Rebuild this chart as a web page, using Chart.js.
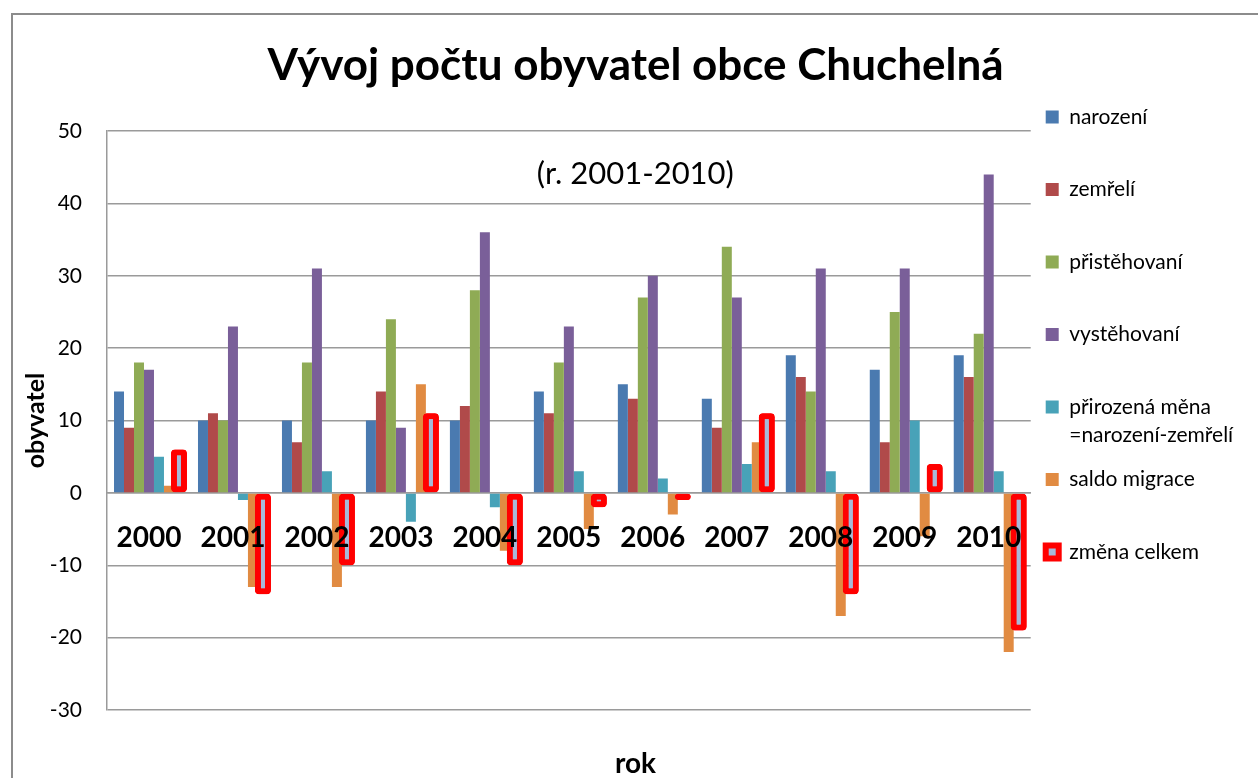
<!DOCTYPE html>
<html lang="cs">
<head>
<meta charset="utf-8">
<title>Vývoj počtu obyvatel obce Chuchelná</title>
<script src="https://cdn.jsdelivr.net/npm/chart.js"></script>
<style>
  html, body { margin: 0; padding: 0; background: #fff; overflow: hidden; }
  #frame { position: absolute; left: 11px; top: 13px; width: 1300px; height: 800px; border: 2px solid #8c8c8c; }
  #chart { position: absolute; left: 0; top: 0; }
</style>
</head>
<body>
<div id="frame"></div>
<canvas id="chart" width="1258" height="778"></canvas>
<script>
'use strict';
// Data: one value per year for each series
const years = ['2000', '2001', '2002', '2003', '2004', '2005', '2006', '2007', '2008', '2009', '2010'];
const narozeni = [14, 10, 10, 10, 10, 14, 15, 13, 19, 17, 19];
const zemreli = [9, 11, 7, 14, 12, 11, 13, 9, 16, 7, 16];
const pristehovani = [18, 10, 18, 24, 28, 18, 27, 34, 14, 25, 22];
const vystehovani = [17, 23, 31, 9, 36, 23, 30, 27, 31, 31, 44];
const prirozenaMena = [5, -1, 3, -4, -2, 3, 2, 4, 3, 10, 3];
const saldoMigrace = [1, -13, -13, 15, -8, -5, -3, 7, -17, -6, -22];
const zmenaCelkem = [6, -14, -10, 11, -10, -2, -1, 11, -14, 4, -19];
// y axis range and tick step
const yMin = -30;
const yMax = 50;
const yStep = 10;

const family = 'Lato, "Open Sans", sans-serif';
const legendFont = {family: family, size: 21, lineHeight: 57.5 / 21};
const legendPad = 15;

// Legend sits higher than the plot area, as in the original
const legendShift = {
  id: 'legendShift',
  afterLayout(chart) {
    chart.legend.top = 91.5;
  }
};
// Second line of a two-line legend label, hanging under its first line
const legendSecondLine = {
  id: 'legendSecondLine',
  afterDraw(chart) {
    const lg = chart.legend;
    const ctx = chart.ctx;
    const row = legendFont.size * legendFont.lineHeight + legendPad;
    chart.data.datasets.forEach((ds, i) => {
      const lines = ds.label.split('\n');
      if (lines.length < 2) return;
      const x = lg.left + legendPad + 13 + legendFont.size / 2;
      const y = lg.top + legendPad + i * row + legendFont.size / 2 + 28;
      ctx.save();
      ctx.font = `${legendFont.size}px ${family}`;
      ctx.fillStyle = '#000';
      ctx.textBaseline = 'middle';
      ctx.fillText(lines[1], x, y);
      ctx.restore();
    });
  }
};
// Period note inside the plot
const periodNote = {
  id: 'periodNote',
  afterDraw(chart) {
    const {ctx, chartArea, scales} = chart;
    ctx.save();
    ctx.font = `31px ${family}`;
    ctx.fillStyle = '#000';
    ctx.textAlign = 'center';
    ctx.textBaseline = 'middle';
    ctx.fillText('(r. 2001-2010)', chartArea.left + chartArea.width * 0.572, scales.y.getPixelForValue(44));
    ctx.restore();
  }
};
// Total change bars are drawn over their neighbours
const totalOnTop = {
  id: 'totalOnTop',
  afterDatasetsDraw(chart) {
    const meta = chart.getDatasetMeta(chart.data.datasets.length - 1);
    meta.data.forEach(bar => bar.draw(chart.ctx));
  }
};

const ctx = document.getElementById('chart').getContext('2d');
new Chart(ctx, {
  type: 'bar',
  data: {
    labels: years,
    datasets: [
      {label: 'narození', data: narozeni, backgroundColor: '#4A7AB0'},
      {label: 'zemřelí', data: zemreli, backgroundColor: '#B04A4A'},
      {label: 'přistěhovaní', data: pristehovani, backgroundColor: '#8FAB55'},
      {label: 'vystěhovaní', data: vystehovani, backgroundColor: '#7A5F99'},
      {label: 'přirozená měna\n=narození-zemřelí', data: prirozenaMena, backgroundColor: '#48A2B8'},
      {label: 'saldo migrace', data: saldoMigrace, backgroundColor: '#E18B42'},
      {label: 'změna celkem', data: zmenaCelkem, backgroundColor: '#A7B9D9', borderColor: '#FF0000',
        borderWidth: 6, borderRadius: 4, borderSkipped: false, barPercentage: 1.6}
    ]
  },
  options: {
    responsive: false,
    animation: false,
    devicePixelRatio: 1,
    layout: {padding: {left: 50, right: 37, top: 0, bottom: 0}},
    datasets: {bar: {categoryPercentage: 0.833, barPercentage: 1, borderWidth: 0}},
    scales: {
      x: {
        position: {y: 0},
        grid: {display: false, drawTicks: false},
        border: {display: true, color: '#9a9a9a', width: 1.5},
        ticks: {font: {family: family, size: 28, weight: 'bold'}, color: '#000', padding: 28, z: 1}
      },
      y: {
        min: yMin, max: yMax,
        ticks: {stepSize: yStep, font: {family: family, size: 21}, color: '#000', padding: 25,
          callback: v => String(v)},
        grid: {color: '#9a9a9a', lineWidth: 1.5, drawTicks: false},
        border: {display: true, color: '#9a9a9a', width: 1.5},
        title: {display: true, text: 'obyvatel', color: '#000',
          font: {family: family, size: 25, weight: 'bold', lineHeight: 1}, padding: {top: -26.5, bottom: 0}},
        afterFit(scale) { scale.width = 57; }
      }
    },
    plugins: {
      title: {display: true, text: 'Vývoj počtu obyvatel obce Chuchelná', color: '#000',
        font: {family: family, size: 44, weight: 'bold', lineHeight: 1.2}, padding: {top: 39, bottom: 39.2}},
      subtitle: {display: true, position: 'bottom', text: 'rok', color: '#000',
        font: {family: family, size: 28, weight: 'bold', lineHeight: 1}, padding: {top: 40, bottom: 0}},
      legend: {
        position: 'right', align: 'start',
        labels: {
          boxWidth: 13, boxHeight: 13, padding: legendPad, color: '#000', font: legendFont,
          generateLabels(chart) {
            const items = Chart.defaults.plugins.legend.labels.generateLabels(chart);
            items.forEach(it => { it.text = [it.text.split('\n')[0]]; });
            return items;
          }
        }
      },
      tooltip: {enabled: false}
    }
  },
  plugins: [legendShift, legendSecondLine, periodNote, totalOnTop]
});
</script>
</body>
</html>
